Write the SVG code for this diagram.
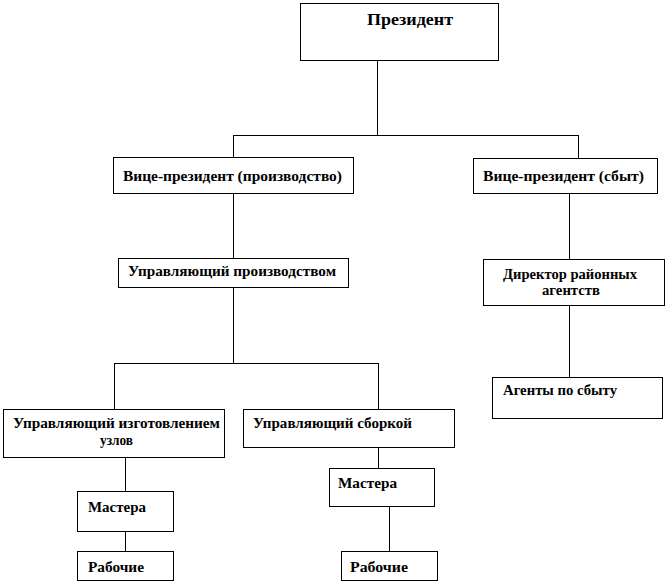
<svg xmlns="http://www.w3.org/2000/svg" width="669" height="583" viewBox="0 0 669 583">
<style>
rect.box{fill:#fff;stroke:#000;stroke-width:1}
.c line{stroke:#000;stroke-width:1}
text{font-family:'Liberation Serif','DejaVu Serif','Times New Roman',serif;font-weight:bold;font-size:14px;fill:#000}
text.big{font-size:16px}
</style>
<rect width="669" height="583" fill="#fff"/>
<g id="connectors" class="c">
<line x1="377.5" y1="60" x2="377.5" y2="135"/>
<line x1="233" y1="135.5" x2="578" y2="135.5"/>
<line x1="233.5" y1="135" x2="233.5" y2="157"/>
<line x1="578.5" y1="135" x2="578.5" y2="158"/>
<line x1="233.5" y1="193" x2="233.5" y2="258"/>
<line x1="233.5" y1="287" x2="233.5" y2="363"/>
<line x1="114" y1="363.5" x2="378" y2="363.5"/>
<line x1="114.5" y1="363" x2="114.5" y2="409"/>
<line x1="378.5" y1="363" x2="378.5" y2="409"/>
<line x1="125.5" y1="457" x2="125.5" y2="491"/>
<line x1="125.5" y1="531" x2="125.5" y2="551"/>
<line x1="378.5" y1="447" x2="378.5" y2="468"/>
<line x1="389.5" y1="506" x2="389.5" y2="551"/>
<line x1="569.5" y1="193" x2="569.5" y2="259"/>
<line x1="569.5" y1="305" x2="569.5" y2="377"/>
</g>
<g id="president"><rect class="box" x="300.5" y="3.5" width="198" height="57"/><text class="big" x="367" y="25" textLength="86" lengthAdjust="spacingAndGlyphs">Президент</text></g>
<g id="vp-production"><rect class="box" x="113.5" y="157.5" width="240" height="36"/><text x="123" y="181" textLength="219" lengthAdjust="spacingAndGlyphs">Вице-президент (производство)</text></g>
<g id="vp-sales"><rect class="box" x="473.5" y="158.5" width="184" height="35"/><text x="483" y="181" textLength="161" lengthAdjust="spacingAndGlyphs">Вице-президент (сбыт)</text></g>
<g id="production-manager"><rect class="box" x="118.5" y="258.5" width="230" height="29"/><text x="128" y="276" textLength="208" lengthAdjust="spacingAndGlyphs">Управляющий производством</text></g>
<g id="district-director"><rect class="box" x="483.5" y="259.5" width="181" height="46"/><text x="503" y="279" textLength="134" lengthAdjust="spacingAndGlyphs">Директор районных</text><text x="542" y="295" textLength="58" lengthAdjust="spacingAndGlyphs">агентств</text></g>
<g id="sales-agents"><rect class="box" x="492.5" y="377.5" width="170" height="41"/><text x="503" y="395" textLength="114" lengthAdjust="spacingAndGlyphs">Агенты по сбыту</text></g>
<g id="parts-manager"><rect class="box" x="3.5" y="409.5" width="221" height="48"/><text x="13" y="428" textLength="207" lengthAdjust="spacingAndGlyphs">Управляющий изготовлением</text><text x="100" y="445" textLength="33" lengthAdjust="spacingAndGlyphs">узлов</text></g>
<g id="assembly-manager"><rect class="box" x="243.5" y="409.5" width="211" height="38"/><text x="253" y="428" textLength="159" lengthAdjust="spacingAndGlyphs">Управляющий сборкой</text></g>
<g id="masters-left"><rect class="box" x="77.5" y="491.5" width="96" height="40"/><text x="88" y="512" textLength="58" lengthAdjust="spacingAndGlyphs">Мастера</text></g>
<g id="workers-left"><rect class="box" x="77.5" y="551.5" width="96" height="29"/><text x="88" y="572" textLength="56" lengthAdjust="spacingAndGlyphs">Рабочие</text></g>
<g id="masters-mid"><rect class="box" x="329.5" y="468.5" width="105" height="38"/><text x="338" y="488" textLength="59" lengthAdjust="spacingAndGlyphs">Мастера</text></g>
<g id="workers-mid"><rect class="box" x="341.5" y="551.5" width="96" height="29"/><text x="350" y="572" textLength="58" lengthAdjust="spacingAndGlyphs">Рабочие</text></g>
</svg>
